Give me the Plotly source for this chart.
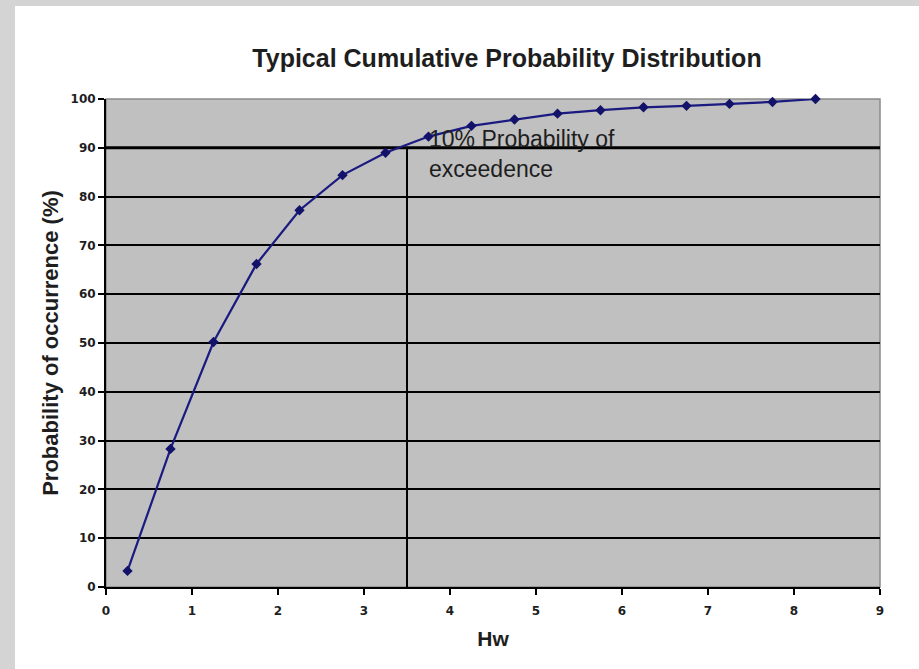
import plotly.graph_objects as go

# Hw values (bin mid-points) and cumulative probability of occurrence (%)
hw = [0.25, 0.75, 1.25, 1.75, 2.25, 2.75, 3.25, 3.75, 4.25,
      4.75, 5.25, 5.75, 6.25, 6.75, 7.25, 7.75, 8.25]
prob = [3.3, 28.3, 50.2, 66.2, 77.2, 84.4, 89.0, 92.3, 94.5,
        95.8, 97.0, 97.7, 98.3, 98.6, 99.0, 99.4, 100.0]

# 10% exceedence marker
exceed_level = 90
exceed_hw = 3.5
x_range = [0, 9]
y_range = [0, 100]

W, H = 919, 669
L, R, T, B = 106, 39, 99, 82
PW = W - L - R
PH = H - T - B

FONT = "Liberation Sans, Arial, sans-serif"
TICK_FONT = "DejaVu Sans, Verdana, sans-serif"
TEXT = "#1e1e1e"

fig = go.Figure()

# threshold lines
fig.add_trace(
    go.Scatter(
        x=x_range,
        y=[exceed_level, exceed_level],
        mode="lines",
        line=dict(color="black", width=3),
        hoverinfo="skip",
        showlegend=False,
    )
)
fig.add_trace(
    go.Scatter(
        x=[exceed_hw, exceed_hw],
        y=[y_range[0], exceed_level],
        mode="lines",
        line=dict(color="black", width=2),
        hoverinfo="skip",
        showlegend=False,
    )
)

fig.add_trace(
    go.Scatter(
        x=hw,
        y=prob,
        mode="lines+markers",
        line=dict(color="#1a1a80", width=2.2),
        marker=dict(symbol="diamond", size=8, color="#12126a"),
        cliponaxis=False,
        showlegend=False,
    )
)

fig.add_annotation(
    x=3.73,
    y=94.8,
    xref="x",
    yref="y",
    xanchor="left",
    yanchor="top",
    align="left",
    showarrow=False,
    text="10% Probability of<br>exceedence",
    font=dict(family=FONT, size=23, color=TEXT),
)

# plot area border (grey top/right)
fig.add_shape(
    type="rect",
    xref="x domain",
    yref="y domain",
    x0=0,
    x1=1,
    y0=0,
    y1=1,
    line=dict(color="#8a8a8a", width=1.5),
    layer="below",
)

# screenshot frame shadow (left and top)
fig.add_shape(
    type="rect",
    xref="paper",
    yref="paper",
    x0=-L / PW,
    x1=(15 - L) / PW,
    y0=-B / PH,
    y1=(H - B) / PH,
    fillcolor="#d4d4d4",
    line=dict(width=0),
    layer="below",
)
fig.add_shape(
    type="rect",
    xref="paper",
    yref="paper",
    x0=-L / PW,
    x1=(W - L) / PW,
    y0=(H - B - 6) / PH,
    y1=(H - B) / PH,
    fillcolor="#d4d4d4",
    line=dict(width=0),
    layer="below",
)

fig.update_layout(
    width=W,
    height=H,
    margin=dict(l=L, r=R, t=T, b=B),
    paper_bgcolor="white",
    plot_bgcolor="#c0c0c0",
    title=dict(
        text="<b>Typical Cumulative Probability Distribution</b>",
        x=(507 - L) / PW,
        xref="paper",
        xanchor="center",
        y=1 - 58 / H,
        yref="container",
        yanchor="middle",
        font=dict(family=FONT, size=25, color=TEXT),
    ),
    showlegend=False,
)

fig.update_xaxes(
    range=x_range,
    dtick=1,
    showgrid=False,
    zeroline=False,
    showline=True,
    linecolor="black",
    linewidth=2,
    ticks="outside",
    ticklen=6,
    tickwidth=2,
    tickcolor="black",
    ticklabelstandoff=6,
    tickfont=dict(family=TICK_FONT, size=12, color=TEXT, weight="bold"),
    title=dict(
        text="<b>Hw</b>",
        font=dict(family=FONT, size=21, color=TEXT),
        standoff=14,
    ),
)
fig.update_yaxes(
    range=y_range,
    dtick=10,
    showgrid=True,
    gridcolor="black",
    gridwidth=2,
    zeroline=False,
    showline=True,
    linecolor="black",
    linewidth=2,
    ticks="outside",
    ticklen=6,
    tickwidth=2,
    tickcolor="black",
    tickfont=dict(family=TICK_FONT, size=12, color=TEXT, weight="bold"),
    title=dict(
        text="<b>Probability of occurrence (%)</b>",
        font=dict(family=FONT, size=22, color=TEXT),
        standoff=6,
    ),
)

fig.write_html(
    "out.html",
    config={"displayModeBar": False},
    post_script="document.body.style.margin='0';",
)
